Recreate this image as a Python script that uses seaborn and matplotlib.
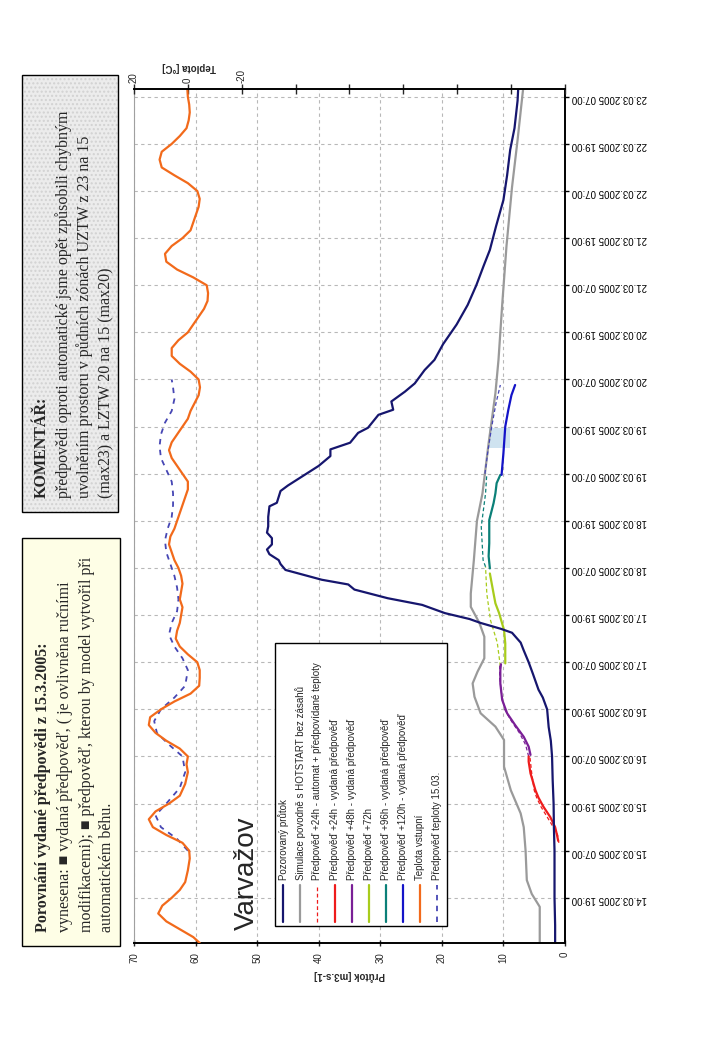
import numpy as np
import matplotlib
matplotlib.use('Agg')
import matplotlib.pyplot as plt
from matplotlib.patches import Rectangle
from matplotlib.lines import Line2D
import seaborn as sns

# time is in hours from 14.03.2005 00:00

# Pozorovaný průtok
obs_h = [7.5, 12, 19, 25, 31, 37, 43, 49, 55, 59, 62.5, 67, 70, 72, 76, 79, 82, 84, 86.5, 87.5,
         89, 90, 91.5, 93.6, 95.3, 97.5, 98.8, 100, 102.5, 104, 105, 106.5, 107.7, 109, 110.6,
         112, 113.6, 116, 118.7, 119.6, 122.6, 124, 126, 129, 131.5, 133.2, 134.9, 137.4, 138.7,
         142, 143.3, 145.4, 147.9, 150, 153.4, 156, 160, 165, 170, 175, 180, 184, 190, 196.7,
         203, 209.5, 215, 222, 225]
obs_q = [1.6, 1.6, 1.7, 1.7, 1.7, 1.8, 1.85, 2.0, 2.1, 2.3, 2.65, 2.9, 3.6, 4.3, 5.2, 5.9, 6.7, 7.2, 8.6, 10.4,
         13.7, 15.5, 19.5, 23.2, 28.8, 34.2, 35.2, 39.5, 45.4, 46.2, 46.5, 48.0, 48.4, 47.6, 47.6,
         48.4, 48.2, 48.2, 48.0, 46.8, 46.2, 45.0, 43.0, 40.0, 38.1, 38.1, 34.9, 33.6, 32.0,
         30.3, 27.9, 28.2, 26.0, 24.4, 22.8, 21.2, 19.8, 17.6, 15.8, 14.4, 13.2, 12.2, 11.2, 10.0,
         9.4, 8.9, 8.2, 7.7, 7.6]

# Simulace povodně s HOTSTART bez zásahů
sim_h = [7.5, 12, 16.7, 20, 23.5, 31, 37, 40.5, 46.4, 52.4, 59.2, 62.6, 66, 70.2, 73.6, 76.6, 80,
         85.5, 89, 93.1, 96.5, 105, 115, 122, 134.8, 147.5, 156, 170, 185, 200, 212, 225]
sim_q = [4.1, 4.1, 4.1, 5.4, 6.2, 6.4, 6.7, 7.2, 8.8, 9.9, 9.9, 11.3, 13.7, 14.7, 15.0, 14.2, 13.1,
         13.1, 13.9, 15.3, 15.3, 14.8, 14.3, 13.4, 12.4, 11.3, 10.8, 10.2, 9.5, 8.6, 7.7, 6.8]

# issued forecasts (vydaná předpověď)
f24_h = [33.5, 35, 37, 39.6, 42.2, 44.5, 46.4, 50.7, 53.7, 55]
f24_q = [1.1, 1.3, 1.6, 2.4, 3.5, 4.3, 4.8, 5.6, 5.9, 5.9]
f48_h = [55.4, 57.5, 60, 63, 66, 69.4, 73.6, 77, 78.5]
f48_q = [5.6, 5.9, 6.7, 8.1, 9.4, 10.2, 10.5, 10.5, 10.4]
f72_h = [78.7, 83.8, 87.2, 91.5, 94, 96.5, 101.6]
f72_q = [9.7, 9.7, 9.9, 10.7, 11.3, 11.6, 12.2]
f96_h = [102.9, 106, 109.3, 115.2, 119.5, 122, 124.6, 126.7]
f96_q = [12.2, 12.4, 12.3, 12.3, 11.6, 11.3, 11.1, 10.5]
f120_h = [126.7, 132.2, 139, 143.3, 147, 149.6]
f120_q = [10.3, 10.0, 9.7, 9.2, 8.7, 8.1]

# automatic forecasts with forecast temperatures
a24_h = [33, 35, 37, 39.6, 42.2, 44.5, 46.4, 50.7, 55]
a24_q = [1.0, 1.2, 1.9, 2.9, 3.9, 4.6, 5.0, 5.4, 5.7]
a48_h = [55, 58, 61, 64, 67, 71, 75, 78.5]
a48_q = [5.9, 6.4, 7.4, 8.7, 9.8, 10.3, 10.6, 10.6]
a72_h = [78, 84, 89.7, 96.5, 103.3]
a72_q = [10.5, 11.0, 12.1, 12.7, 12.9]
a96_h = [103.3, 105, 113.5, 122, 127]
a96_q = [12.9, 13.3, 13.6, 12.9, 12.7]
a120_h = [127, 133, 139, 145, 149.6]
a120_q = [13.0, 12.5, 11.9, 11.2, 10.5]

# Teplota vstupní
temp_h = [7.5, 9, 11, 13, 15, 17, 19, 21, 23, 26, 29, 31, 33, 35, 37, 39, 41, 43, 45, 48, 51, 53,
          55, 57, 59, 61, 63, 65, 67, 69, 71, 73, 75, 77, 79, 81, 83, 85, 87, 89, 91, 93, 95, 97,
          99, 101, 103, 105, 107, 109, 111, 113, 115, 117, 119, 121, 123, 125, 127, 129, 131, 133,
          135, 137, 139, 141, 143, 145, 147, 149, 151, 153, 155, 157, 159, 161, 163, 165, 167, 169,
          171, 173, 175, 177, 179, 181, 183, 185, 187, 189, 191, 193, 195, 197, 199, 201, 203, 205,
          207, 209, 211, 213, 215, 217, 219, 221, 223, 225]
temp_t = [-4.4, -2, 3, 8, 11, 9.5, 6, 3, 1, 0, -0.7, -0.5, 2, 8, 13, 14.5, 12, 7, 3, 1, 0, 0.5,
          0, 3, 8, 12, 14.5, 14, 10, 5, -1, -4.2, -4.4, -4.4, -3.5, 0, 3, 4.5, 4, 3, 2.5, 2, 3, 2.5,
          2, 2.5, 3.5, 5, 6, 7, 6.5, 5, 4, 3, 2, 1, 0, 0, 2, 4, 6, 7,
          6, 4, 2, 0, -1, -2.5, -4, -4.5, -4, -1, 3, 6, 6, 3.5, 0, -2, -4, -6,
          -7.3, -7.5, -7, -2, 4, 8, 8.5, 6, 2, -1, -2, -3, -4, -4.4, -3.5, 0, 5, 9.7,
          10.5, 9.7, 6, 3, 0.5, -0.3, -0.7, -0.5, 0, 0.2]

# Předpověď teploty 15.03.
tf_h = [31, 34, 37, 40, 43, 47, 51, 55, 58, 61, 64, 67, 70, 73, 77, 80, 83, 86, 89, 92, 95, 98,
        101, 104, 107, 110, 113, 116, 119, 122, 125, 128, 131, 134, 137, 140, 143, 146, 149, 151]
tf_t = [0, 4, 10, 12, 8, 3, 1, 2, 7, 11.5, 12.5, 10, 5, 1, 0, 2, 5, 7, 6, 4, 3.5, 4,
        5, 6.5, 8, 8.5, 7.5, 6, 5.5, 5.5, 6, 8, 10, 10.5, 10, 8.5, 6, 5, 5.5, 6]

# highlighted interval (hours, flow)
hl_h = [133.5, 138.6]
hl_q = [12.4, 8.9]

time_ticks = [19 + 12 * i for i in range(18)]
time_labels = ['14.03.2005 19:00', '15.03.2005 07:00', '15.03.2005 19:00', '16.03.2005 07:00',
               '16.03.2005 19:00', '17.03.2005 07:00', '17.03.2005 19:00', '18.03.2005 07:00',
               '18.03.2005 19:00', '19.03.2005 07:00', '19.03.2005 19:00', '20.03.2005 07:00',
               '20.03.2005 19:00', '21.03.2005 07:00', '21.03.2005 19:00', '22.03.2005 07:00',
               '22.03.2005 19:00', '23.03.2005 07:00']
flow_ticks = [0, 10, 20, 30, 40, 50, 60, 70]
temp_ticks = [20, 0, -20, -40, -60, -80, -100, -120, -140]
temp_labels = ['20', '0', '-20', '', '', '', '', '', '']

c_obs = '#16166e'
c_sim = '#9a9a9a'
c_red = '#ee1c1c'
c_purple = '#7a1f96'
c_green = '#a8cc1c'
c_teal = '#0b8078'
c_blue = '#1414c8'
c_orange = '#f26a1b'
c_tf = '#4646b4'

sns.set_theme(style='ticks')
plt.rcParams['font.family'] = ['Liberation Sans', 'DejaVu Sans']
serif = ['Liberation Serif', 'DejaVu Serif']

fig = plt.figure(figsize=(7.2, 10.4), dpi=100, facecolor='white')
ax = fig.add_axes([0.1861, 0.0933, 0.5986, 0.8212])
ax2 = ax.twiny()

ax.set_xlim(70, 0)
ax.set_ylim(7.5, 225)
ax2.set_xlim(20, -140)

ax.set_axisbelow(True)
ax.set_xticks(flow_ticks)
ax.set_xticklabels([str(v) for v in flow_ticks])
ax.set_yticks(time_ticks)
ax.set_yticklabels(time_labels)
ax.grid(True, linestyle=(0, (3, 3)), color='#b8b8b8', linewidth=0.8)

ax.fill_betweenx(hl_h, hl_q[0], hl_q[1], color='#cfe3f0', lw=0, zorder=1.5)

series = [
    (sim_h, sim_q, c_sim, '-', 1.6),
    (a24_h, a24_q, c_red, (0, (3, 2)), 0.9),
    (a48_h, a48_q, c_purple, (0, (3, 2)), 0.9),
    (a72_h, a72_q, c_green, (0, (3, 2)), 0.9),
    (a96_h, a96_q, c_teal, (0, (3, 2)), 0.9),
    (a120_h, a120_q, c_tf, (0, (3, 2)), 0.9),
    (f24_h, f24_q, c_red, '-', 1.6),
    (f48_h, f48_q, c_purple, '-', 1.6),
    (f72_h, f72_q, c_green, '-', 1.6),
    (f96_h, f96_q, c_teal, '-', 1.6),
    (f120_h, f120_q, c_blue, '-', 1.6),
    (obs_h, obs_q, c_obs, '-', 1.6),
]
for hh, qq, col, ls, lw in series:
    sns.lineplot(x=qq, y=hh, ax=ax, orient='y', estimator=None, color=col,
                 linestyle=ls, linewidth=lw, legend=False)

sns.lineplot(x=tf_t, y=tf_h, ax=ax2, orient='y', estimator=None, color=c_tf,
             linestyle=(0, (3, 3)), linewidth=1.3, legend=False)
sns.lineplot(x=temp_t, y=temp_h, ax=ax2, orient='y', estimator=None, color=c_orange,
             linewidth=1.6, legend=False)

# axes styling
ax.yaxis.tick_right()
ax.tick_params(axis='y', right=True, left=False, direction='out', length=3, width=1,
               pad=2, labelsize=7, labelrotation=180, colors='black')
ax.tick_params(axis='x', bottom=True, direction='inout', length=5, width=1,
               pad=4, labelsize=7, labelrotation=90)
ax.set_ylabel('')
ax.set_xlabel('Průtok [m3.s-1]', rotation=180, fontweight='bold', fontsize=7)
ax.xaxis.set_label_coords(0.5, -0.0375)
ax.xaxis.label.set_va('center')
for s in ['bottom', 'right']:
    ax.spines[s].set_color('black')
    ax.spines[s].set_linewidth(1.4)
ax.spines['left'].set_visible(True)
ax.spines['left'].set_color('#a0a0a0')
ax.spines['left'].set_linewidth(0.8)
ax.spines['top'].set_visible(False)

ax2.set_xticks(temp_ticks)
ax2.set_xticklabels(temp_labels)
ax2.tick_params(axis='x', top=True, direction='inout', length=7, width=1, pad=1,
                labelsize=7, labelrotation=90)
for s in ['left', 'right', 'bottom']:
    ax2.spines[s].set_visible(False)
ax2.spines['top'].set_visible(True)
ax2.spines['top'].set_color('black')
ax2.spines['top'].set_linewidth(1.4)
ax2.set_ylabel('')
ax2.set_xlabel('Teplota [°C]', rotation=180, fontweight='bold', fontsize=7)
ax2.xaxis.set_label_coords(0.128, 1.0258)
ax2.xaxis.label.set_va('center')

# legend drawn upright along the time axis
legend_items = [
    ('Pozorovaný průtok', c_obs, '-', 1.6),
    ('Simulace povodně s HOTSTART bez zásahů', c_sim, '-', 1.6),
    ('Předpověď +24h - automat + předpovídané teploty', c_red, (0, (3, 2)), 0.9),
    ('Předpověď +24h - vydaná předpověď', c_red, '-', 1.6),
    ('Předpověď +48h - vydaná předpověď', c_purple, '-', 1.6),
    ('Předpověď +72h', c_green, '-', 1.6),
    ('Předpověď +96h - vydaná předpověď', c_teal, '-', 1.6),
    ('Předpověď +120h - vydaná předpověď', c_blue, '-', 1.6),
    ('Teplota vstupní', c_orange, '-', 1.6),
    ('Předpověď teploty 15.03.', c_tf, (0, (3, 3)), 1.3),
]
ax.add_patch(Rectangle((0.327, 0.0199), 0.399, 0.331, transform=ax.transAxes,
                       facecolor='white', edgecolor='black', lw=1, zorder=5))
for i, (lab, col, ls, lw) in enumerate(legend_items):
    xp = 0.346 + i * 0.0398
    ax.add_line(Line2D([xp, xp], [0.0246, 0.068], transform=ax.transAxes, color=col,
                       linestyle=ls, linewidth=lw, zorder=6))
    ax.text(xp, 0.074, lab, transform=ax.transAxes, rotation=90, ha='center',
            va='bottom', fontsize=7, zorder=6)

ax.text(0.262, 0.015, 'Varvažov', transform=ax.transAxes, rotation=90, ha='center',
        va='bottom', fontsize=20, zorder=6)


# text boxes on the left
def box_line(x, y, parts, size):
    prev = None
    for txt, bold in parts:
        kw = dict(rotation=90, ha='center', va='bottom', fontsize=size, family=serif,
                  fontweight='bold' if bold else 'normal')
        if prev is None:
            prev = fig.text(x, y, txt, **kw)
        else:
            prev = ax.annotate(txt, xy=(0.5, 1), xycoords=prev, annotation_clip=False, **kw)


fig.add_artist(Rectangle((22 / 720, 1 - 946 / 1040), 98 / 720, 408 / 1040,
                         transform=fig.transFigure, facecolor='#fefee6',
                         edgecolor='black', lw=1))
left_lines = [
    [('Porovnání vydané předpovědi z 15.3.2005:', True), (' V grafu je', False)],
    [('vynesena: ■ vydaná předpověď, ( je ovlivněna ručními', False)],
    [('modifikacemi); ■ předpověď, kterou by model vytvořil při', False)],
    [('automatickém běhu.', False)],
]
for xpx, parts in zip([43, 65, 87, 107], left_lines):
    box_line(xpx / 720, 1 - 932 / 1040, parts, 11.5)

fig.add_artist(Rectangle((22 / 720, 1 - 512 / 1040), 96 / 720, 437 / 1040,
                         transform=fig.transFigure, facecolor='#ececec',
                         edgecolor='#d2d2d2', hatch='....', lw=0))
fig.add_artist(Rectangle((22 / 720, 1 - 512 / 1040), 96 / 720, 437 / 1040,
                         transform=fig.transFigure, facecolor='none',
                         edgecolor='black', lw=1))
top_lines = [
    [('KOMENTÁŘ:', True), (' Mírné zhoršení vydané modifikované', False)],
    [('předpovědi oproti automatické jsme opět způsobili chybným', False)],
    [('uvolněním prostoru v půdních zónách UZTW z 23 na 15', False)],
    [('(max23) a LZTW 20 na 15 (max20)', False)],
]
for xpx, parts in zip([42, 63.5, 85, 106], top_lines):
    box_line(xpx / 720, 1 - 498 / 1040, parts, 11.5)

fig.savefig('out.png', dpi=100)
